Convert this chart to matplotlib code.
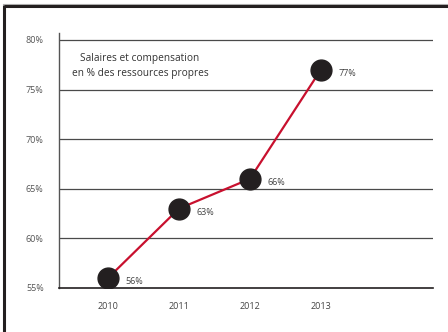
import matplotlib
matplotlib.use("Agg")
import matplotlib.pyplot as plt
from matplotlib.lines import Line2D

plt.rcParams['font.family'] = ['Open Sans', 'DejaVu Sans']

years = [2010, 2011, 2012, 2013]
values = [56, 63, 66, 77]
value_labels = ["56%", "63%", "66%", "77%"]
y_ticks = [55, 60, 65, 70, 75, 80]
y_tick_labels = ["55%", "60%", "65%", "70%", "75%", "80%"]
title_lines = "Salaires et compensation\nen % des ressources propres"

W, H = 448, 332
fig = plt.figure(figsize=(W / 100, H / 100), dpi=100)
fig.patch.set_facecolor("white")

# Outer frame: thin grey line above a thick dark top edge, dark left edge
fig.add_artist(Line2D([3 / W, 1], [1 - 3.5 / H, 1 - 3.5 / H], color="#b0b0b0",
                      lw=0.8, transform=fig.transFigure))
fig.add_artist(Line2D([4 / W, 1], [1 - 6 / H, 1 - 6 / H], color="#231f20",
                      lw=2.2, transform=fig.transFigure, solid_capstyle="butt"))
fig.add_artist(Line2D([4 / W, 4 / W], [0, 1 - 5 / H], color="#231f20",
                      lw=2.2, transform=fig.transFigure, solid_capstyle="butt"))

left, right = 59 / W, 433 / W
bottom, top = 44 / H, 299 / H
ax = fig.add_axes([left, bottom, right - left, top - bottom])

ax.set_xlim(2009.31, 2014.58)
ax.set_ylim(55, 80.7)

for s in ["top", "right"]:
    ax.spines[s].set_visible(False)
ax.spines["left"].set_color("#555555")
ax.spines["left"].set_linewidth(1.0)
ax.spines["bottom"].set_color("#231f20")
ax.spines["bottom"].set_linewidth(1.2)

for yv in y_ticks[1:]:
    ax.axhline(yv, color="#4a4a4a", lw=0.9, zorder=1)

ax.set_yticks(y_ticks)
ax.set_yticklabels(y_tick_labels, fontsize=6.5, color="#555555")
ax.tick_params(axis="y", length=0, pad=11)
ax.set_xticks(years)
ax.set_xticklabels([str(y) for y in years], fontsize=6.5, color="#444444")
ax.tick_params(axis="x", length=0, pad=10)

ax.plot(years, values, color="#c8102e", lw=1.6, zorder=2)
ax.plot(years, values, "o", color="#231f20", markersize=15, zorder=3)

for x, v, lab in zip(years, values, value_labels):
    ax.annotate(lab, (x, v), xytext=(12.5, -2.5), textcoords="offset points",
                fontsize=6.5, color="#444444", va="center", ha="left")

ax.text(140 / W, 1 - 66 / H, title_lines, transform=fig.transFigure,
        ha="center", va="center", fontsize=7.3, color="#333333",
        linespacing=1.45)

fig.savefig("out.png", dpi=100, facecolor="white")
